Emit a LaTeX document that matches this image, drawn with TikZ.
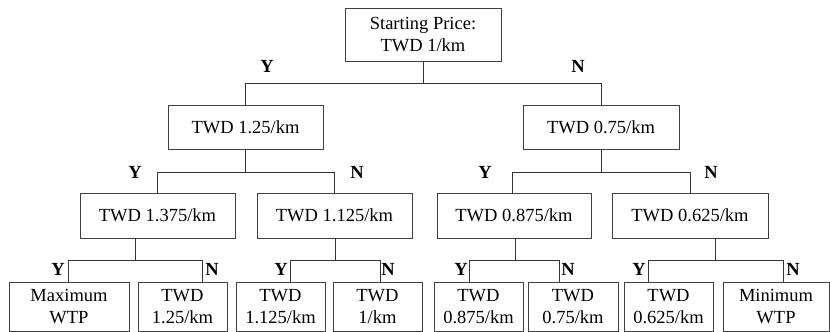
\documentclass[tikz,border=0pt]{standalone}
\usepackage{fontspec}
\setmainfont{Liberation Serif}
\usepackage{tikz}
\usetikzlibrary{positioning,calc}

\tikzset{
  pbox/.style={draw=black!75, line width=0.9pt, align=center, inner sep=1pt,
    font=\fontsize{18.5}{22.5}\selectfont},
  yn/.style={font=\fontsize{18.5}{22.5}\selectfont\bfseries, inner sep=0pt},
  branch/.style={draw=black!80, line width=0.9pt}
}

\begin{document}
\begin{tikzpicture}[x=1pt, y=-1pt]
    \useasboundingbox (0,0) rectangle (830,332);

    % starting price
    \node[pbox, minimum width=156pt, minimum height=53pt] (root) at (423, 34.5) {Starting Price:\\TWD 1/km};

    % second bid
    \node[pbox, minimum width=155pt, minimum height=44pt] (p125) at (245.5, 127) {TWD 1.25/km};
    \node[pbox, minimum width=156pt, minimum height=44pt] (p075) at (601, 127) {TWD 0.75/km};

    % third bid
    \node[pbox, minimum width=155pt, minimum height=45pt] (p1375) at (157.5, 215.5) {TWD 1.375/km};
    \node[pbox, minimum width=155pt, minimum height=45pt] (p1125) at (334.5, 215.5) {TWD 1.125/km};
    \node[pbox, minimum width=154pt, minimum height=45pt] (p0875) at (514, 215.5) {TWD 0.875/km};
    \node[pbox, minimum width=156pt, minimum height=45pt] (p0625) at (690, 215.5) {TWD 0.625/km};

    % outcomes
    \node[pbox, minimum width=120pt, minimum height=49pt] (maxwtp) at (69, 306.5) {Maximum\\WTP};
    \node[pbox, minimum width=89pt, minimum height=49pt] (t125) at (182.5, 306.5) {TWD\\1.25/km};
    \node[pbox, minimum width=89pt, minimum height=49pt] (t1125) at (280.5, 306.5) {TWD\\1.125/km};
    \node[pbox, minimum width=89pt, minimum height=49pt] (t1) at (377.5, 306.5) {TWD\\1/km};
    \node[pbox, minimum width=89pt, minimum height=49pt] (t0875) at (478.5, 306.5) {TWD\\0.875/km};
    \node[pbox, minimum width=90pt, minimum height=49pt] (t075) at (573, 306.5) {TWD\\0.75/km};
    \node[pbox, minimum width=89pt, minimum height=49pt] (t0625) at (668.5, 306.5) {TWD\\0.625/km};
    \node[pbox, minimum width=106pt, minimum height=49pt] (minwtp) at (776, 306.5) {Minimum\\WTP};

    % Branches
    \draw[branch] (root.south) -- ++(0,22) -| (p125.north);
    \draw[branch] (root.south) ++(0,22) -| (p075.north);
    \draw[branch] (p125.south) -- ++(0,23) -| (p1375.north);
    \draw[branch] (p125.south) ++(0,23) -| (p1125.north);
    \draw[branch] (p075.south) -- ++(0,23) -| ([xshift=-2pt]p0875.north);
    \draw[branch] (p075.south) ++(0,23) -| (p0625.north);
    \draw[branch] ([xshift=-22.5pt]p1375.south) -- ++(0,22) -| ([xshift=-1pt]maxwtp.north);
    \draw[branch] ([xshift=-22.5pt]p1375.south) ++(0,22) -| ([xshift=19.5pt]t125.north);
    \draw[branch] ([xshift=0.5pt]p1125.south) -- ++(0,22) -| ([xshift=9.5pt]t1125.north);
    \draw[branch] ([xshift=0.5pt]p1125.south) ++(0,22) -| ([xshift=2.5pt]t1.north);
    \draw[branch] ([xshift=1pt]p0875.south) -- ++(0,22) -| ([xshift=-9.5pt]t0875.north);
    \draw[branch] ([xshift=1pt]p0875.south) ++(0,22) -| ([xshift=-14pt]t075.north);
    \draw[branch] ([xshift=25pt]p0625.south) -- ++(0,22) -| ([xshift=-20.5pt]t0625.north);
    \draw[branch] ([xshift=25pt]p0625.south) ++(0,22) -| ([xshift=7pt]minwtp.north);

    % Y / N
    \node[yn] (y1) at (267, 66) {Y};
    \node[yn] (n1) at (578, 66) {N};
    \node[yn] (y2) at (135, 172) {Y};
    \node[yn] (n2) at (357, 172) {N};
    \node[yn] (y3) at (485, 172) {Y};
    \node[yn] (n3) at (711, 172) {N};
    \node[yn] (y4) at (58, 269) {Y};
    \node[yn] (n4) at (212, 269) {N};
    \node[yn] (y5) at (281, 269) {Y};
    \node[yn] (n5) at (388, 269) {N};
    \node[yn] (y6) at (461, 269) {Y};
    \node[yn] (n6) at (568, 269) {N};
    \node[yn] (y7) at (639, 269) {Y};
    \node[yn] (n7) at (793, 269) {N};
\end{tikzpicture}
\end{document}
